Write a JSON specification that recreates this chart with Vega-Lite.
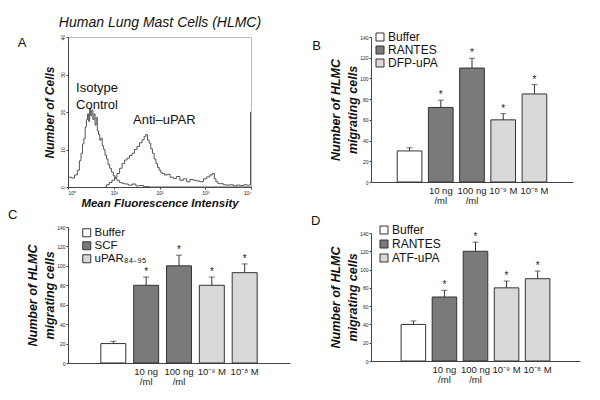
{
  "$schema": "https://vega.github.io/schema/vega-lite/v6.json",
  "background": "white",
  "padding": {"left": 7, "top": 14, "right": 5, "bottom": 5},
  "config": {
    "font": "Liberation Sans",
    "view": {"stroke": null},
    "axis": {"grid": false, "domainColor": "#444", "tickColor": "#444", "labelColor": "#222", "titleColor": "#111", "labelOverlap": false},
    "title": {"fontWeight": "normal", "fontSize": 13, "color": "#111"}
  },
  "datasets": {
    "hist": [
      {"series": "Isotype", "mfi": 1.0, "cells": 2.5},
      {"series": "Isotype", "mfi": 1.1, "cells": 2.6},
      {"series": "Isotype", "mfi": 1.3, "cells": 2.4},
      {"series": "Isotype", "mfi": 1.5, "cells": 3.2},
      {"series": "Isotype", "mfi": 1.7, "cells": 4.5},
      {"series": "Isotype", "mfi": 1.85, "cells": 7},
      {"series": "Isotype", "mfi": 2.0, "cells": 9},
      {"series": "Isotype", "mfi": 2.15, "cells": 11.5},
      {"series": "Isotype", "mfi": 2.3, "cells": 13},
      {"series": "Isotype", "mfi": 2.45, "cells": 16},
      {"series": "Isotype", "mfi": 2.6, "cells": 18},
      {"series": "Isotype", "mfi": 2.75, "cells": 19.5},
      {"series": "Isotype", "mfi": 2.9, "cells": 17.5},
      {"series": "Isotype", "mfi": 3.05, "cells": 21},
      {"series": "Isotype", "mfi": 3.2, "cells": 19},
      {"series": "Isotype", "mfi": 3.4, "cells": 20.5},
      {"series": "Isotype", "mfi": 3.6, "cells": 18},
      {"series": "Isotype", "mfi": 3.8, "cells": 19.5},
      {"series": "Isotype", "mfi": 4.0, "cells": 16.5},
      {"series": "Isotype", "mfi": 4.25, "cells": 18.5},
      {"series": "Isotype", "mfi": 4.5, "cells": 15},
      {"series": "Isotype", "mfi": 4.8, "cells": 14},
      {"series": "Isotype", "mfi": 5.1, "cells": 12.5},
      {"series": "Isotype", "mfi": 5.4, "cells": 13},
      {"series": "Isotype", "mfi": 5.8, "cells": 11},
      {"series": "Isotype", "mfi": 6.2, "cells": 10},
      {"series": "Isotype", "mfi": 6.7, "cells": 8.5},
      {"series": "Isotype", "mfi": 7.2, "cells": 7.5},
      {"series": "Isotype", "mfi": 7.8, "cells": 6},
      {"series": "Isotype", "mfi": 8.5, "cells": 5},
      {"series": "Isotype", "mfi": 9.3, "cells": 4},
      {"series": "Isotype", "mfi": 10.2, "cells": 3},
      {"series": "Isotype", "mfi": 11.2, "cells": 2.2},
      {"series": "Isotype", "mfi": 12.5, "cells": 1.8},
      {"series": "Isotype", "mfi": 14, "cells": 1.2},
      {"series": "Isotype", "mfi": 16, "cells": 1},
      {"series": "Isotype", "mfi": 19, "cells": 0.8},
      {"series": "Isotype", "mfi": 23, "cells": 0.5},
      {"series": "Isotype", "mfi": 28, "cells": 0.8},
      {"series": "Isotype", "mfi": 33, "cells": 0.3},
      {"series": "Isotype", "mfi": 40, "cells": 0.4},
      {"series": "Isotype", "mfi": 50, "cells": 0.1},
      {"series": "Isotype", "mfi": 70, "cells": 0},
      {"series": "Isotype", "mfi": 10000, "cells": 0},
      {"series": "Anti", "mfi": 6.5, "cells": 0},
      {"series": "Anti", "mfi": 7.5, "cells": 0.6},
      {"series": "Anti", "mfi": 8.5, "cells": 1.2},
      {"series": "Anti", "mfi": 9.8, "cells": 1.8},
      {"series": "Anti", "mfi": 11, "cells": 2.6},
      {"series": "Anti", "mfi": 12.6, "cells": 3.6},
      {"series": "Anti", "mfi": 14.3, "cells": 5},
      {"series": "Anti", "mfi": 16.2, "cells": 6.3},
      {"series": "Anti", "mfi": 18.4, "cells": 7.2},
      {"series": "Anti", "mfi": 20.8, "cells": 7.7},
      {"series": "Anti", "mfi": 23.5, "cells": 8.4},
      {"series": "Anti", "mfi": 26.8, "cells": 9},
      {"series": "Anti", "mfi": 30, "cells": 10},
      {"series": "Anti", "mfi": 34.5, "cells": 10.8},
      {"series": "Anti", "mfi": 39, "cells": 11.8},
      {"series": "Anti", "mfi": 44.4, "cells": 12.6},
      {"series": "Anti", "mfi": 48, "cells": 13.5},
      {"series": "Anti", "mfi": 52.5, "cells": 14},
      {"series": "Anti", "mfi": 57, "cells": 12.5},
      {"series": "Anti", "mfi": 62, "cells": 11.7},
      {"series": "Anti", "mfi": 67, "cells": 10.2},
      {"series": "Anti", "mfi": 73, "cells": 9},
      {"series": "Anti", "mfi": 80, "cells": 7.5},
      {"series": "Anti", "mfi": 87, "cells": 6.3},
      {"series": "Anti", "mfi": 95, "cells": 5.2},
      {"series": "Anti", "mfi": 102, "cells": 4.5},
      {"series": "Anti", "mfi": 112, "cells": 3.8},
      {"series": "Anti", "mfi": 121, "cells": 3.6},
      {"series": "Anti", "mfi": 138, "cells": 3.2},
      {"series": "Anti", "mfi": 156, "cells": 3.4},
      {"series": "Anti", "mfi": 185, "cells": 2.6},
      {"series": "Anti", "mfi": 218, "cells": 2.3},
      {"series": "Anti", "mfi": 255, "cells": 2.8},
      {"series": "Anti", "mfi": 305, "cells": 1.8},
      {"series": "Anti", "mfi": 360, "cells": 2.2},
      {"series": "Anti", "mfi": 427, "cells": 1.4},
      {"series": "Anti", "mfi": 500, "cells": 2},
      {"series": "Anti", "mfi": 597, "cells": 1.8},
      {"series": "Anti", "mfi": 700, "cells": 1.6},
      {"series": "Anti", "mfi": 835, "cells": 1.4},
      {"series": "Anti", "mfi": 1000, "cells": 2.2},
      {"series": "Anti", "mfi": 1167, "cells": 2.7},
      {"series": "Anti", "mfi": 1350, "cells": 3.2},
      {"series": "Anti", "mfi": 1503, "cells": 3.6},
      {"series": "Anti", "mfi": 1650, "cells": 2.2},
      {"series": "Anti", "mfi": 1778, "cells": 1.4},
      {"series": "Anti", "mfi": 2000, "cells": 0.9},
      {"series": "Anti", "mfi": 2286, "cells": 0.9},
      {"series": "Anti", "mfi": 2700, "cells": 0.6},
      {"series": "Anti", "mfi": 3198, "cells": 0.5},
      {"series": "Anti", "mfi": 3800, "cells": 0.6},
      {"series": "Anti", "mfi": 4500, "cells": 0.3},
      {"series": "Anti", "mfi": 5285, "cells": 0.5},
      {"series": "Anti", "mfi": 6500, "cells": 0.4},
      {"series": "Anti", "mfi": 7500, "cells": 0.6},
      {"series": "Anti", "mfi": 8750, "cells": 0.5},
      {"series": "Anti", "mfi": 9600, "cells": 0.5},
      {"series": "Anti", "mfi": 9900, "cells": 20},
      {"series": "Anti", "mfi": 10000, "cells": 20}
    ],
    "notes": [
      {"mfi": 1.5, "cells": 26.3, "label": "Isotype\nControl"},
      {"mfi": 26.4, "cells": 17.9, "label": "Anti–uPAR"}
    ],
    "b": [
      {"cond": "Buffer", "group": "Buffer", "value": 30, "hi": 33},
      {"cond": "10 ng|/ml", "group": "RANTES", "value": 72, "hi": 79},
      {"cond": "100 ng|/ml", "group": "RANTES", "value": 110, "hi": 119.5},
      {"cond": "10⁻⁹ M", "group": "DFP-uPA", "value": 60, "hi": 66},
      {"cond": "10⁻⁸ M", "group": "DFP-uPA", "value": 85, "hi": 94}
    ],
    "c": [
      {"cond": "Buffer", "group": "Buffer", "value": 20, "hi": 22.3},
      {"cond": "10 ng|/ml", "group": "SCF", "value": 80, "hi": 88.5},
      {"cond": "100 ng|/ml", "group": "SCF", "value": 100, "hi": 111},
      {"cond": "10⁻⁹ M", "group": "uPAR₈₄₋₉₅", "value": 80, "hi": 88.5},
      {"cond": "10⁻⁸ M", "group": "uPAR₈₄₋₉₅", "value": 93, "hi": 102}
    ],
    "d": [
      {"cond": "Buffer", "group": "Buffer", "value": 40, "hi": 43.8},
      {"cond": "10 ng|/ml", "group": "RANTES", "value": 70, "hi": 77.3},
      {"cond": "100 ng|/ml", "group": "RANTES", "value": 120, "hi": 130},
      {"cond": "10⁻⁹ M", "group": "ATF-uPA", "value": 80, "hi": 87.5},
      {"cond": "10⁻⁸ M", "group": "ATF-uPA", "value": 90, "hi": 98.4}
    ]
  },
  "resolve": {"scale": {"x": "independent", "y": "independent", "color": "independent"}, "legend": {"color": "independent"}},
  "spacing": 20,
  "hconcat": [
    {
      "spacing": 0,
      "resolve": {"scale": {"x": "independent", "y": "independent", "color": "independent"}, "legend": {"color": "independent"}},
      "vconcat": [
        {
          "width": 183,
          "height": 150,
          "view": {"stroke": "#bbb"},
          "title": {"text": "A", "orient": "left", "anchor": "end", "angle": 0, "frame": "group", "baseline": "top", "align": "right", "offset": 8},
          "resolve": {"axis": {"x": "independent"}},
          "layer": [
            {
              "data": {"name": "hist"},
              "mark": {"type": "line", "interpolate": "step", "color": "#555", "strokeWidth": 1},
              "encoding": {
                "x": {"field": "mfi", "type": "quantitative",
                  "scale": {"type": "log", "domain": [1, 10000], "nice": false},
                  "axis": {"values": [1, 10, 100, 1000, 10000], "labelOverlap": false, "labelExpr": "'10' + ['⁰','¹','²','³','⁴'][round(log(datum.value)/LN10)]", "labelFontSize": 5, "tickSize": 2, "labelPadding": 1, "title": "Mean Fluorescence Intensity", "titleFontStyle": "italic", "titleFontWeight": "bold", "titleFontSize": 11.5, "titlePadding": 2}},
                "y": {"field": "cells", "type": "quantitative",
                  "scale": {"domain": [0, 40], "nice": false},
                  "axis": {"values": [0, 10, 20, 30, 40], "tickCount": 5, "labelOverlap": false, "labelAngle": -90, "labelAlign": "center", "labelBaseline": "bottom", "labelFontSize": 5, "tickSize": 2, "labelPadding": 1, "title": "Number of Cells", "titleFontStyle": "italic", "titleFontWeight": "bold", "titleFontSize": 12, "titlePadding": 4}},
                "detail": {"field": "series"}
              }
            },
            {
              "data": {"name": "notes"},
              "mark": {"type": "text", "align": "left", "baseline": "middle", "fontSize": 13, "lineBreak": "\n", "lineHeight": 17, "color": "#111"},
              "encoding": {
                "x": {"field": "mfi", "type": "quantitative",
                  "axis": {"orient": "top", "labels": false, "ticks": false, "domain": false, "title": "Human Lung Mast Cells (HLMC)", "titleFontStyle": "italic", "titleFontWeight": "normal", "titleFontSize": 14, "titlePadding": 8}},
                "y": {"field": "cells", "type": "quantitative",
                  "axis": {"values": [0, 10, 20, 30, 40], "tickCount": 5, "labelOverlap": false, "labelAngle": -90, "labelAlign": "center", "labelBaseline": "bottom", "labelFontSize": 5, "tickSize": 2, "labelPadding": 1, "title": "Number of Cells", "titleFontStyle": "italic", "titleFontWeight": "bold", "titleFontSize": 12, "titlePadding": 4}},
                "text": {"field": "label"}
              }
            }
          ]
        },
        {
          "width": 222,
          "height": 136,
          "data": {"name": "c"},
          "title": {"text": "C", "orient": "left", "anchor": "end", "angle": 0, "frame": "group", "baseline": "top", "align": "right", "offset": 0, "dy": -18},
          "encoding": {
            "x": {"field": "cond", "type": "nominal", "sort": null, "scale": {"paddingInner": 0.24, "paddingOuter": 1.15},
              "axis": {"title": null, "ticks": false, "labelAngle": 0, "labelExpr": "datum.value == 'Buffer' ? '' : split(datum.value, '|')", "labelFontSize": 9.5, "labelLineHeight": 10, "labelPadding": 3}}
          },
          "layer": [
            {
              "mark": {"type": "bar", "stroke": "#333", "strokeWidth": 1},
              "encoding": {
                "y": {"field": "value", "type": "quantitative", "scale": {"domain": [0, 140], "nice": false},
                  "axis": {"values": [0, 20, 40, 60, 80, 100, 120, 140], "tickCount": 8, "labelOverlap": false, "labelFontSize": 5, "tickSize": 2, "labelPadding": 1, "title": ["Number of HLMC", "migrating cells"], "titleFontSize": 12.5, "titleFontStyle": "italic", "titleFontWeight": "bold", "titleLineHeight": 17, "titlePadding": 0}},
                "color": {"field": "group", "type": "nominal", "sort": null,
                  "scale": {"domain": ["Buffer", "SCF", "uPAR₈₄₋₉₅"], "range": ["#ffffff", "#7a7a7a", "#d9d9d9"]},
                  "legend": {"title": null, "orient": "none", "legendX": 13, "legendY": 0, "symbolType": "square", "symbolSize": 64, "symbolStrokeColor": "#333", "symbolStrokeWidth": 1, "labelFontSize": 11.5, "labelColor": "#111", "rowPadding": 0, "labelOffset": 2, "padding": 0}}
              }
            },
            {"mark": {"type": "rule", "color": "#333"}, "encoding": {"y": {"field": "value", "type": "quantitative", "axis": {"values": [0, 20, 40, 60, 80, 100, 120, 140], "tickCount": 8, "labelOverlap": false, "labelFontSize": 5, "tickSize": 2, "labelPadding": 1, "title": ["Number of HLMC", "migrating cells"], "titleFontSize": 12.5, "titleFontStyle": "italic", "titleFontWeight": "bold", "titleLineHeight": 17, "titlePadding": 0}}, "y2": {"field": "hi"}}},
            {"mark": {"type": "tick", "color": "#333", "size": 6, "thickness": 1}, "encoding": {"y": {"field": "hi", "type": "quantitative", "axis": {"values": [0, 20, 40, 60, 80, 100, 120, 140], "tickCount": 8, "labelOverlap": false, "labelFontSize": 5, "tickSize": 2, "labelPadding": 1, "title": ["Number of HLMC", "migrating cells"], "titleFontSize": 12.5, "titleFontStyle": "italic", "titleFontWeight": "bold", "titleLineHeight": 17, "titlePadding": 0}}}},
            {"transform": [{"filter": "datum.group != 'Buffer'"}], "mark": {"type": "text", "text": "*", "fontSize": 10, "dy": -5, "color": "#222"}, "encoding": {"y": {"field": "hi", "type": "quantitative", "axis": {"values": [0, 20, 40, 60, 80, 100, 120, 140], "tickCount": 8, "labelOverlap": false, "labelFontSize": 5, "tickSize": 2, "labelPadding": 1, "title": ["Number of HLMC", "migrating cells"], "titleFontSize": 12.5, "titleFontStyle": "italic", "titleFontWeight": "bold", "titleLineHeight": 17, "titlePadding": 0}}}}
          ]
        }
      ]
    },
    {
      "spacing": 10,
      "resolve": {"scale": {"x": "independent", "y": "independent", "color": "independent"}, "legend": {"color": "independent"}},
      "vconcat": [
        {
          "width": 202,
          "height": 145,
          "data": {"name": "b"},
          "title": {"text": "B", "orient": "left", "anchor": "end", "angle": 0, "frame": "group", "baseline": "top", "align": "right", "offset": 0, "dy": 3},
          "encoding": {
            "x": {"field": "cond", "type": "nominal", "sort": null, "scale": {"paddingInner": 0.21, "paddingOuter": 0.84},
              "axis": {"title": null, "ticks": false, "labelAngle": 0, "labelExpr": "datum.value == 'Buffer' ? '' : split(datum.value, '|')", "labelFontSize": 9.5, "labelLineHeight": 10, "labelPadding": 3}}
          },
          "layer": [
            {
              "mark": {"type": "bar", "stroke": "#333", "strokeWidth": 1},
              "encoding": {
                "y": {"field": "value", "type": "quantitative", "scale": {"domain": [0, 140], "nice": false},
                  "axis": {"values": [0, 20, 40, 60, 80, 100, 120, 140], "tickCount": 8, "labelOverlap": false, "labelFontSize": 5, "tickSize": 2, "labelPadding": 1, "title": ["Number of HLMC", "migrating cells"], "titleFontSize": 12.5, "titleFontStyle": "italic", "titleFontWeight": "bold", "titleLineHeight": 17, "titlePadding": 0}},
                "color": {"field": "group", "type": "nominal", "sort": null,
                  "scale": {"domain": ["Buffer", "RANTES", "DFP-uPA"], "range": ["#ffffff", "#7a7a7a", "#d9d9d9"]},
                  "legend": {"title": null, "orient": "none", "legendX": 3, "legendY": -6, "symbolType": "square", "symbolSize": 64, "symbolStrokeColor": "#333", "symbolStrokeWidth": 1, "labelFontSize": 12, "labelColor": "#111", "rowPadding": 1, "labelOffset": 2, "padding": 0}}
              }
            },
            {"mark": {"type": "rule", "color": "#333"}, "encoding": {"y": {"field": "value", "type": "quantitative", "axis": {"values": [0, 20, 40, 60, 80, 100, 120, 140], "tickCount": 8, "labelOverlap": false, "labelFontSize": 5, "tickSize": 2, "labelPadding": 1, "title": ["Number of HLMC", "migrating cells"], "titleFontSize": 12.5, "titleFontStyle": "italic", "titleFontWeight": "bold", "titleLineHeight": 17, "titlePadding": 0}}, "y2": {"field": "hi"}}},
            {"mark": {"type": "tick", "color": "#333", "size": 6, "thickness": 1}, "encoding": {"y": {"field": "hi", "type": "quantitative", "axis": {"values": [0, 20, 40, 60, 80, 100, 120, 140], "tickCount": 8, "labelOverlap": false, "labelFontSize": 5, "tickSize": 2, "labelPadding": 1, "title": ["Number of HLMC", "migrating cells"], "titleFontSize": 12.5, "titleFontStyle": "italic", "titleFontWeight": "bold", "titleLineHeight": 17, "titlePadding": 0}}}},
            {"transform": [{"filter": "datum.group != 'Buffer'"}], "mark": {"type": "text", "text": "*", "fontSize": 10, "dy": -5, "color": "#222"}, "encoding": {"y": {"field": "hi", "type": "quantitative", "axis": {"values": [0, 20, 40, 60, 80, 100, 120, 140], "tickCount": 8, "labelOverlap": false, "labelFontSize": 5, "tickSize": 2, "labelPadding": 1, "title": ["Number of HLMC", "migrating cells"], "titleFontSize": 12.5, "titleFontStyle": "italic", "titleFontWeight": "bold", "titleLineHeight": 17, "titlePadding": 0}}}}
          ]
        },
        {
          "width": 209,
          "height": 128,
          "data": {"name": "d"},
          "title": {"text": "D", "orient": "left", "anchor": "end", "angle": 0, "frame": "group", "baseline": "top", "align": "right", "offset": 0, "dy": -18},
          "encoding": {
            "x": {"field": "cond", "type": "nominal", "sort": null, "scale": {"paddingInner": 0.21, "paddingOuter": 0.97},
              "axis": {"title": null, "ticks": false, "labelAngle": 0, "labelExpr": "datum.value == 'Buffer' ? '' : split(datum.value, '|')", "labelFontSize": 9.5, "labelLineHeight": 10, "labelPadding": 3}}
          },
          "layer": [
            {
              "mark": {"type": "bar", "stroke": "#333", "strokeWidth": 1},
              "encoding": {
                "y": {"field": "value", "type": "quantitative", "scale": {"domain": [0, 140], "nice": false},
                  "axis": {"values": [0, 20, 40, 60, 80, 100, 120, 140], "tickCount": 8, "labelOverlap": false, "labelFontSize": 5, "tickSize": 2, "labelPadding": 1, "title": ["Number of HLMC", "migrating cells"], "titleFontSize": 12.5, "titleFontStyle": "italic", "titleFontWeight": "bold", "titleLineHeight": 17, "titlePadding": 0}},
                "color": {"field": "group", "type": "nominal", "sort": null,
                  "scale": {"domain": ["Buffer", "RANTES", "ATF-uPA"], "range": ["#ffffff", "#7a7a7a", "#d9d9d9"]},
                  "legend": {"title": null, "orient": "none", "legendX": 7, "legendY": -9, "symbolType": "square", "symbolSize": 64, "symbolStrokeColor": "#333", "symbolStrokeWidth": 1, "labelFontSize": 12, "labelColor": "#111", "rowPadding": 2, "labelOffset": 2, "padding": 0}}
              }
            },
            {"mark": {"type": "rule", "color": "#333"}, "encoding": {"y": {"field": "value", "type": "quantitative", "axis": {"values": [0, 20, 40, 60, 80, 100, 120, 140], "tickCount": 8, "labelOverlap": false, "labelFontSize": 5, "tickSize": 2, "labelPadding": 1, "title": ["Number of HLMC", "migrating cells"], "titleFontSize": 12.5, "titleFontStyle": "italic", "titleFontWeight": "bold", "titleLineHeight": 17, "titlePadding": 0}}, "y2": {"field": "hi"}}},
            {"mark": {"type": "tick", "color": "#333", "size": 6, "thickness": 1}, "encoding": {"y": {"field": "hi", "type": "quantitative", "axis": {"values": [0, 20, 40, 60, 80, 100, 120, 140], "tickCount": 8, "labelOverlap": false, "labelFontSize": 5, "tickSize": 2, "labelPadding": 1, "title": ["Number of HLMC", "migrating cells"], "titleFontSize": 12.5, "titleFontStyle": "italic", "titleFontWeight": "bold", "titleLineHeight": 17, "titlePadding": 0}}}},
            {"transform": [{"filter": "datum.group != 'Buffer'"}], "mark": {"type": "text", "text": "*", "fontSize": 10, "dy": -5, "color": "#222"}, "encoding": {"y": {"field": "hi", "type": "quantitative", "axis": {"values": [0, 20, 40, 60, 80, 100, 120, 140], "tickCount": 8, "labelOverlap": false, "labelFontSize": 5, "tickSize": 2, "labelPadding": 1, "title": ["Number of HLMC", "migrating cells"], "titleFontSize": 12.5, "titleFontStyle": "italic", "titleFontWeight": "bold", "titleLineHeight": 17, "titlePadding": 0}}}}
          ]
        }
      ]
    }
  ]
}
